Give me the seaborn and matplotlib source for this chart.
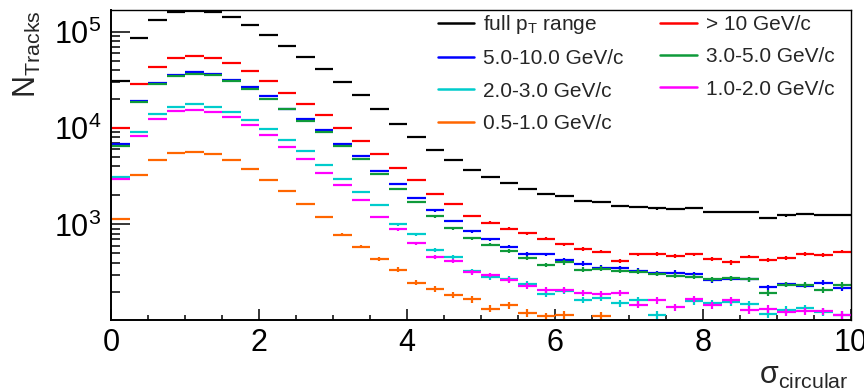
import numpy as np
import pandas as pd
import seaborn as sns
import matplotlib.pyplot as plt
from matplotlib.lines import Line2D
from matplotlib.ticker import LogLocator, MultipleLocator, NullFormatter, LogFormatterSciNotation

nan = np.nan

# sigma_circular histogram: 40 bins of 0.25 from 0 to 10
bin_width = 0.25
n_bins = 40

# counts per bin (nan = empty bin, not drawn on log axis)
full_range = [30500, 86600, 131400, 159100, 165000, 161500, 141200, 116600, 92400, 70500,
              54200, 40600, 29800, 21800, 15600, 11040, 8170, 5890, 4710, 3640,
              3080, 2690, 2350, 2085, 1990, 1746, 1693, 1550, 1528, 1467,
              1443, 1479, 1357, 1344, 1344, 1175, 1241, 1292, 1250, 1262]
pt_gt10 = [10000, 28400, 43200, 52900, 55900, 53300, 46900, 39000, 30500, 23400,
           17600, 13600, 10130, 7430, 5440, 3820, 2915, 2066, 1614, 1231,
           1042, 902, 806, 710, 624, 558, 524, 415, 488, 491,
           472, 488, 443, 403, 465, 429, 451, 496, 484, 524]
pt_5_10 = [6790, 19300, 29500, 35500, 38100, 36600, 31900, 26600, 21300, 15960,
           12360, 9440, 6840, 5090, 3580, 2650, 1879, 1400, 1091, 851,
           703, 590, 496, 488, 432, 393, 357, 351, 332, 313,
           317, 306, 265, 274, 271, 223, 240, 232, 249, 219]
pt_3_5 = [6470, 18600, 28400, 34400, 36100, 35200, 30500, 25500, 19950, 15600,
          11870, 9000, 6590, 4820, 3365, 2330, 1693, 1211, 916, 721,
          619, 527, 451, 382, 403, 340, 349, 330, 324, 306,
          295, 288, 271, 278, 271, 194, 238, 235, 208, 235]
pt_2_3 = [3130, 9200, 13840, 16480, 17580, 16740, 14620, 12070, 9730, 7480,
          5740, 4110, 2960, 2190, 1577, 1000, 793, 541, 457, 327,
          283, 272, 242, 191, 206, 165, 172, 152, 164, 115,
          nan, 159, 154, 156, 149, 119, 130, 135, 124, 116]
pt_1_2 = [2940, 8360, 12560, 14960, 15450, 14720, 12970, 10790, 8430, 6320,
          4740, 3420, 2545, 1807, 1191, 887, 640, 461, 419, 319,
          299, 266, 230, 211, 208, 194, 189, 196, 147, 164,
          139, 169, 146, 163, 130, 133, 123, 126, 125, 115]
pt_05_1 = [1146, 3290, 4710, 5470, 5700, 5350, 4710, 3760, 2870, 2220,
           1640, 1191, 782, 590, 443, 340, 249, 214, 186, 167,
           134, 145, 121, 111, 116, nan, 113, nan, nan, nan,
           nan, nan, nan, nan, nan, nan, nan, nan, nan, nan]

labels = ['full $\\mathrm{p_{T}}$ range', '> 10 GeV/c', '5.0-10.0 GeV/c', '3.0-5.0 GeV/c',
          '2.0-3.0 GeV/c', '1.0-2.0 GeV/c', '0.5-1.0 GeV/c']
colors = ['#000000', '#ff0000', '#0000ff', '#0f9a3a', '#00cccc', '#ff00ff', '#ff6600']
all_counts = [full_range, pt_gt10, pt_5_10, pt_3_5, pt_2_3, pt_1_2, pt_05_1]

centers = (np.arange(n_bins) + 0.5) * bin_width
rows = []
for lab, counts in zip(labels, all_counts):
    for c, n in zip(centers, counts):
        rows.append({'sigma': c, 'N': n, 'range': lab})
df = pd.DataFrame(rows)

sns.set_theme(style='ticks')
plt.rcParams['font.family'] = ['Liberation Sans', 'DejaVu Sans']
plt.rcParams['mathtext.fontset'] = 'custom'
plt.rcParams['mathtext.rm'] = 'Liberation Sans'
plt.rcParams['mathtext.it'] = 'Liberation Sans:italic'
plt.rcParams['mathtext.bf'] = 'Liberation Sans:bold'

palette = dict(zip(labels, sns.color_palette(colors)))

fig = plt.figure(figsize=(8.64, 3.91), dpi=100)
ax = fig.add_axes([111 / 864, 1 - 320 / 391, 740 / 864, 310 / 391])

for lab in labels:
    d = df[df['range'] == lab].dropna()
    ax.errorbar(d['sigma'], d['N'], xerr=bin_width / 2, yerr=np.sqrt(d['N']),
                fmt='none', ecolor=palette[lab], elinewidth=1.6, capsize=0)

ax.set_yscale('log')
ax.set_xlim(0, 10)
ax.set_ylim(102, 1.68e5)

ax.xaxis.set_major_locator(MultipleLocator(2))
ax.xaxis.set_minor_locator(MultipleLocator(0.5))
ax.yaxis.set_major_locator(LogLocator(base=10))
ax.yaxis.set_major_formatter(LogFormatterSciNotation())
ax.yaxis.set_minor_locator(LogLocator(base=10, subs=np.arange(2, 10)))
ax.yaxis.set_minor_formatter(NullFormatter())

ax.tick_params(axis='both', which='both', direction='in', top=False, right=False,
               width=1.1, colors='black')
ax.tick_params(axis='y', which='major', length=13.5, pad=7, labelsize=22)
ax.tick_params(axis='y', which='minor', length=6.8)
ax.tick_params(axis='x', which='major', length=8, pad=6, labelsize=22)
ax.tick_params(axis='x', which='minor', length=3.6)
for side, s in ax.spines.items():
    s.set_color('black')
    s.set_linewidth(1.4 if side in ('left', 'bottom') else 1.0)

fig.text(27 / 864, 1 - 10 / 391, '$\\mathrm{N_{Tracks}}$', rotation=90,
         ha='center', va='top', fontsize=22)
fig.text(849 / 864, 0.0, 'σ$_{\\mathrm{circular}}$', ha='right', va='bottom', fontsize=22)

# legend: two columns, filled row by row like the reference
order = [0, 2, 4, 6, 1, 3, 5]
handles = [Line2D([], [], color=palette[labels[i]], lw=1.8) for i in order]
ax.legend(handles, [labels[i] for i in order], ncol=2, frameon=False, fontsize=15,
          loc='upper left', bbox_to_anchor=(438 / 864, 1 - 13 / 391),
          bbox_transform=fig.transFigure, borderpad=0, borderaxespad=0,
          handlelength=1.75, handletextpad=0.43, columnspacing=1.75, labelspacing=0.64)

fig.savefig('out.png', dpi=100)
